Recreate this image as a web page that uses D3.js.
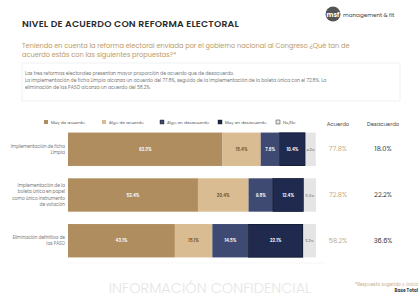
<!DOCTYPE html>
<html><head><meta charset="utf-8">
<script src="https://cdn.jsdelivr.net/npm/d3@7"></script>
<style>
html,body{margin:0;padding:0;background:#fff;}
svg{display:block;font-family:Poppins,"Noto Sans",sans-serif;}
</style></head>
<body><svg id="c" width="420" height="297"></svg>
<script>
const categories = [
  ["Implementación de ficha", "Limpia"],
  ["Implementación de la", "boleta única en papel", "como único instrumento", "de votación"],
  ["Eliminación definitiva de", "las PASO"]
];
const seriesNames = ["Muy de acuerdo", "Algo de acuerdo", "Algo en desacuerdo", "Muy en desacuerdo", "Ns/Nc"];
const muyAcuerdo = [62.3, 52.4, 43.1];
const algoAcuerdo = [15.4, 20.4, 15.1];
const algoDesacuerdo = [7.6, 9.8, 14.5];
const muyDesacuerdo = [10.4, 12.4, 22.1];
const nsnc = [4.2, 5.0, 5.2];
const acuerdo = [77.8, 72.8, 58.2];
const desacuerdo = [18.0, 22.2, 36.6];
const colors = ["#b08d5e", "#d9bc91", "#3e4a72", "#1f2a4e", "#e5e5e5"];
const labelColors = ["#ffffff", "#6b5333", "#ffffff", "#ffffff", "#888888"];

const svg = d3.select("#c");
const series = [muyAcuerdo, algoAcuerdo, algoDesacuerdo, muyDesacuerdo, nsnc];

// Header
svg.append("text").attr("x", 22).attr("y", 27).attr("font-size", 9.3).attr("font-weight", 600)
  .attr("fill", "#2b2b2b").attr("letter-spacing", 0.2).text("NIVEL DE ACUERDO CON REFORMA ELECTORAL");
svg.append("circle").attr("cx", 333).attr("cy", 14).attr("r", 7.5).attr("fill", "#555");
svg.append("text").attr("x", 333).attr("y", 16.5).attr("text-anchor", "middle").attr("font-size", 6.5)
  .attr("font-weight", 700).attr("fill", "#fff").text("msf");
svg.append("text").attr("x", 343).attr("y", 16.5).attr("font-size", 5.6).attr("fill", "#444").text("management & fit");

const sub = ["Teniendo en cuenta la reforma electoral enviada por el gobierno nacional al Congreso ¿Qué tan de",
  "acuerdo estás con las siguientes propuestas?*"];
sub.forEach((t, i) => svg.append("text").attr("x", 22).attr("y", 48 + i * 9).attr("font-size", 6.6)
  .attr("fill", "#b99a6c").text(t));

svg.append("rect").attr("x", 22).attr("y", 63).attr("width", 378).attr("height", 38)
  .attr("fill", "#fff").attr("stroke", "#ececec").attr("stroke-width", 0.7);
const box = ["Las tres reformas electorales presentan mayor proporción de acuerdo que de desacuerdo.",
  "La implementación de ficha Limpia alcanza un acuerdo del 77.8%, seguido de la implementación de la boleta única con el 72.8%. La",
  "eliminación de las PASO alcanza un acuerdo del 58.2%."];
box.forEach((t, i) => svg.append("text").attr("x", 25).attr("y", 75 + i * 7).attr("font-size", 4.6)
  .attr("fill", "#777").text(t));

// Scales
const x = d3.scaleLinear().domain([0, 100]).range([68, 316]);
const y = d3.scaleBand().domain(d3.range(categories.length)).range([128, 262]).paddingInner(0.27).paddingOuter(0.1);

// Legend
const lx = d3.scalePoint().domain(seriesNames).range([44, 276]);
seriesNames.forEach((n, i) => {
  svg.append("rect").attr("x", lx(n)).attr("y", 120).attr("width", 4).attr("height", 4)
    .attr("fill", colors[i]).attr("stroke", i >= 2 ? "#111" : "none").attr("stroke-width", 0.4);
  svg.append("text").attr("x", lx(n) + 7).attr("y", 123.6).attr("font-size", 4.2).attr("fill", "#555").text(n);
});

// Bars
categories.forEach((cat, r) => {
  let acc = 0;
  series.forEach((s, k) => {
    const v = s[r];
    const x0 = x(acc), x1 = x(acc + v);
    svg.append("rect").attr("x", x0).attr("y", y(r)).attr("width", x1 - x0).attr("height", y.bandwidth())
      .attr("fill", colors[k]);
    svg.append("text").attr("x", (x0 + x1) / 2).attr("y", y(r) + y.bandwidth() / 2 + 1.5)
      .attr("text-anchor", "middle").attr("font-size", k === 4 ? 3.8 : 4.3).attr("font-weight", 600)
      .attr("fill", labelColors[k]).text(v.toFixed(1) + "%");
    acc += v;
  });
  const s3 = x(muyAcuerdo[r] + algoAcuerdo[r] + algoDesacuerdo[r]);
  const d1 = x(muyAcuerdo[r] + algoAcuerdo[r] + algoDesacuerdo[r] + muyDesacuerdo[r]);
  svg.append("rect").attr("x", s3).attr("y", y(r) + 0.3)
    .attr("width", d1 - s3 - 0.3).attr("height", y.bandwidth() - 0.6)
    .attr("fill", "none").attr("stroke", "#0d1226").attr("stroke-width", 0.6);
  // Category labels
  const n = cat.length;
  cat.forEach((t, j) => svg.append("text").attr("x", 65).attr("text-anchor", "end")
    .attr("y", y(r) + y.bandwidth() / 2 + (j - (n - 1) / 2) * 6.2 + 1.5)
    .attr("font-size", 4.3).attr("fill", "#777").text(t));
  // Totals
  svg.append("text").attr("x", 338).attr("y", y(r) + y.bandwidth() / 2 + 2.2).attr("text-anchor", "middle")
    .attr("font-size", 6.6).attr("fill", "#c4a77a").text(acuerdo[r].toFixed(1) + "%");
  svg.append("text").attr("x", 383).attr("y", y(r) + y.bandwidth() / 2 + 2.2).attr("text-anchor", "middle")
    .attr("font-size", 6.6).attr("fill", "#333").text(desacuerdo[r].toFixed(1) + "%");
});
svg.append("text").attr("x", 338).attr("y", 126).attr("text-anchor", "middle").attr("font-size", 5.3).attr("fill", "#444").text("Acuerdo");
svg.append("text").attr("x", 383).attr("y", 126).attr("text-anchor", "middle").attr("font-size", 5.3).attr("fill", "#444").text("Desacuerdo");

svg.append("line").attr("x1", 68).attr("x2", 326).attr("y1", 263).attr("y2", 263).attr("stroke", "#f2f2f2").attr("stroke-width", 0.6);

// Footer
svg.append("text").attr("x", 210).attr("y", 293).attr("text-anchor", "middle").attr("font-size", 14.5)
  .attr("font-weight", 300).attr("fill", "#e6e6e6").text("INFORMACIÓN CONFIDENCIAL");
svg.append("text").attr("x", 418).attr("y", 285.5).attr("text-anchor", "end").attr("font-size", 4.4)
  .attr("fill", "#c9ad84").text("*Respuesta sugerida y única");
svg.append("text").attr("x", 418).attr("y", 292).attr("text-anchor", "end").attr("font-size", 4.4)
  .attr("font-weight", 700).attr("fill", "#444").text("Base Total");
</script></body></html>
